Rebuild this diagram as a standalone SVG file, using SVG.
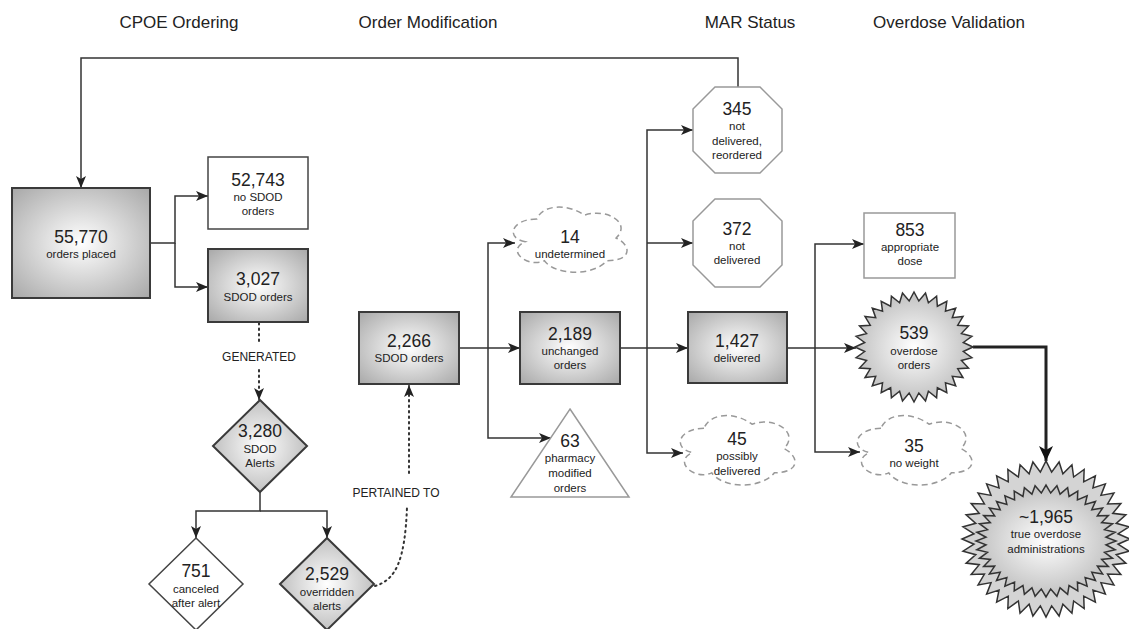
<svg xmlns="http://www.w3.org/2000/svg" xmlns:xlink="http://www.w3.org/1999/xlink" width="1129" height="629" viewBox="0 0 1129 629">
  <style>
    .hdr { font-family: "Liberation Sans", Arial, sans-serif; font-size: 17px; fill: #222; text-anchor: middle; }
    .num { font-family: "Liberation Sans", Arial, sans-serif; font-size: 17.5px; fill: #222; text-anchor: middle; }
    .lbl { font-family: "Liberation Sans", Arial, sans-serif; font-size: 11.5px; fill: #222; text-anchor: middle; }
    .edge-lbl { font-family: "Liberation Sans", Arial, sans-serif; font-size: 12px; fill: #222; text-anchor: middle; }
    .gbox { fill: url(#shade); stroke: #3a3a3a; stroke-width: 2; }
    .wbox { fill: #fff; stroke: #444; stroke-width: 1.5; }
    .lite { fill: #fff; stroke: #999; stroke-width: 1.5; }
    .cloud { fill: #fff; stroke: #999; stroke-width: 1.5; stroke-dasharray: 6 4; }
    .star { stroke: #333; stroke-width: 1.5; vector-effect: non-scaling-stroke; }
    .wire { fill: none; stroke: #333; stroke-width: 1.5; marker-end: url(#arrow); }
    .dots { fill: none; stroke: #333; stroke-width: 2; stroke-dasharray: 1.5 4; stroke-linecap: round; }
    .heavy { fill: none; stroke: #222; stroke-width: 3; marker-end: url(#arrowBig); }
  </style>
  <defs>
    <radialGradient id="shade" cx="0.5" cy="0.5" r="0.7">
      <stop offset="0" stop-color="#ffffff"/>
      <stop offset="1" stop-color="#a8a8a8"/>
    </radialGradient>
    <marker id="arrow" markerUnits="userSpaceOnUse" markerWidth="13" markerHeight="11" refX="12" refY="5" orient="auto">
      <path d="M0,0 L12,5 L0,10 L3,5 Z" fill="#222"/>
    </marker>
    <marker id="arrowBig" markerUnits="userSpaceOnUse" markerWidth="16" markerHeight="14" refX="15" refY="7" orient="auto">
      <path d="M0,0 L15,7 L0,14 L4,7 Z" fill="#111"/>
    </marker>
    <!-- 32-point burst, outer radius 100, inner radius 84 -->
    <polygon id="burst" class="star" points="100,0 83.6,8.2 98.1,19.5 80.4,24.4 92.4,38.3 74.1,39.6 83.1,55.6 64.9,53.3 70.7,70.7 53.3,64.9 55.6,83.1 39.6,74.1 38.3,92.4 24.4,80.4 19.5,98.1 8.2,83.6 0,100 -8.2,83.6 -19.5,98.1 -24.4,80.4 -38.3,92.4 -39.6,74.1 -55.6,83.1 -53.3,64.9 -70.7,70.7 -64.9,53.3 -83.1,55.6 -74.1,39.6 -92.4,38.3 -80.4,24.4 -98.1,19.5 -83.6,8.2 -100,0 -83.6,-8.2 -98.1,-19.5 -80.4,-24.4 -92.4,-38.3 -74.1,-39.6 -83.1,-55.6 -64.9,-53.3 -70.7,-70.7 -53.3,-64.9 -55.6,-83.1 -39.6,-74.1 -38.3,-92.4 -24.4,-80.4 -19.5,-98.1 -8.2,-83.6 0,-100 8.2,-83.6 19.5,-98.1 24.4,-80.4 38.3,-92.4 39.6,-74.1 55.6,-83.1 53.3,-64.9 70.7,-70.7 64.9,-53.3 83.1,-55.6 74.1,-39.6 92.4,-38.3 80.4,-24.4 98.1,-19.5 83.6,-8.2"/>
    <!-- 40-point burst, outer radius 100, inner radius 86 -->
    <polygon id="burst40" class="star" points="100,0 85.7,6.7 98.8,15.6 83.6,20.1 95.1,30.9 79.5,32.9 89.1,45.4 73.3,44.9 80.9,58.8 65.4,55.9 70.7,70.7 55.9,65.4 58.8,80.9 44.9,73.3 45.4,89.1 32.9,79.5 30.9,95.1 20.1,83.6 15.6,98.8 6.7,85.7 0,100 -6.7,85.7 -15.6,98.8 -20.1,83.6 -30.9,95.1 -32.9,79.5 -45.4,89.1 -44.9,73.3 -58.8,80.9 -55.9,65.4 -70.7,70.7 -65.4,55.9 -80.9,58.8 -73.3,44.9 -89.1,45.4 -79.5,32.9 -95.1,30.9 -83.6,20.1 -98.8,15.6 -85.7,6.7 -100,0 -85.7,-6.7 -98.8,-15.6 -83.6,-20.1 -95.1,-30.9 -79.5,-32.9 -89.1,-45.4 -73.3,-44.9 -80.9,-58.8 -65.4,-55.9 -70.7,-70.7 -55.9,-65.4 -58.8,-80.9 -44.9,-73.3 -45.4,-89.1 -32.9,-79.5 -30.9,-95.1 -20.1,-83.6 -15.6,-98.8 -6.7,-85.7 0,-100 6.7,-85.7 15.6,-98.8 20.1,-83.6 30.9,-95.1 32.9,-79.5 45.4,-89.1 44.9,-73.3 58.8,-80.9 55.9,-65.4 70.7,-70.7 65.4,-55.9 80.9,-58.8 73.3,-44.9 89.1,-45.4 79.5,-32.9 95.1,-30.9 83.6,-20.1 98.8,-15.6 85.7,-6.7"/>
  </defs>

  <!-- stage headings -->
  <g id="headings">
    <text class="hdr" x="179" y="28">CPOE Ordering</text>
    <text class="hdr" x="428" y="28">Order Modification</text>
    <text class="hdr" x="750" y="28">MAR Status</text>
    <text class="hdr" x="949" y="28">Overdose Validation</text>
  </g>

  <!-- connectors -->
  <g id="connectors">
    <path class="wire" d="M738,87 V58 H81 V188"/>
    <path class="wire" d="M150,243 H175 V196 H208"/>
    <path class="wire" d="M175,243 V287 H208"/>
    <path class="dots" d="M259,323 V341"/>
    <path class="dots" d="M259,370 V394"/>
    <path class="wire" d="M259,392 V400" stroke-width="0"/>
    <path class="wire" d="M260,492 V511 H196 V538"/>
    <path class="wire" d="M260,511 H327 V538"/>
    <path class="dots" d="M375,586 C396,580 405,560 407,507"/>
    <path class="dots" d="M409,473 V392"/>
    <path class="wire" d="M409,395 V385" stroke-width="0"/>
    <path class="wire" d="M459,348 H520"/>
    <path class="wire" d="M488,348 V243 H515"/>
    <path class="wire" d="M488,348 V438 H551"/>
    <path class="wire" d="M620,348 H688"/>
    <path class="wire" d="M647,348 V130 H693"/>
    <path class="wire" d="M647,243 H693"/>
    <path class="wire" d="M647,348 V453 H683"/>
    <path class="wire" d="M787,348 H856"/>
    <path class="wire" d="M815,348 V244 H864"/>
    <path class="wire" d="M815,348 V452 H860"/>
    <path class="heavy" d="M973,347 H1046 V461"/>
    <text class="edge-lbl" x="259" y="361" font-size="12.5">GENERATED</text>
    <text class="edge-lbl" x="396" y="497">PERTAINED TO</text>
  </g>

  <!-- CPOE ordering -->
  <g id="orders-placed">
    <rect class="gbox" x="12" y="188" width="138" height="110"/>
    <text class="num" x="81" y="243">55,770</text>
    <text class="lbl" x="81" y="258">orders placed</text>
  </g>
  <g id="no-sdod">
    <rect class="wbox" x="208" y="157" width="100" height="72"/>
    <text class="num" x="258" y="186">52,743</text>
    <text class="lbl" x="258" y="201">no SDOD</text>
    <text class="lbl" x="258" y="215">orders</text>
  </g>
  <g id="sdod-orders">
    <rect class="gbox" x="208" y="249" width="100" height="73"/>
    <text class="num" x="258" y="285">3,027</text>
    <text class="lbl" x="258" y="301">SDOD orders</text>
  </g>
  <g id="sdod-alerts">
    <polygon class="gbox" stroke-width="1.5" points="260,400 307,446 260,492 213,446"/>
    <text class="num" x="260" y="437">3,280</text>
    <text class="lbl" x="260" y="453">SDOD</text>
    <text class="lbl" x="260" y="467">Alerts</text>
  </g>
  <g id="canceled">
    <polygon class="wbox" stroke="#333" points="196,538 243,584 196,630 149,584"/>
    <text class="num" x="196" y="577">751</text>
    <text class="lbl" x="196" y="593">canceled</text>
    <text class="lbl" x="196" y="607">after alert</text>
  </g>
  <g id="overridden">
    <polygon class="gbox" stroke-width="1.5" points="327,538 374,584 327,630 280,584"/>
    <text class="num" x="327" y="580">2,529</text>
    <text class="lbl" x="327" y="596">overridden</text>
    <text class="lbl" x="327" y="610">alerts</text>
  </g>

  <!-- order modification -->
  <g id="sdod-orders-2">
    <rect class="gbox" x="359" y="312" width="100" height="72"/>
    <text class="num" x="409" y="347">2,266</text>
    <text class="lbl" x="409" y="362">SDOD orders</text>
  </g>
  <g id="undetermined">
    <path class="cloud" d="M536.8,219 C511.4,219 505,238 525.3,241.8 C505,250.2 527.9,268.4 544.4,260.8 C555.8,276 593.9,276 606.6,260.8 C632,260.8 632,245.6 616.1,238 C632,222.8 606.6,207.6 584.4,215.2 C568.5,203.8 543.1,203.8 536.8,219 Z"/>
    <text class="num" x="570" y="243">14</text>
    <text class="lbl" x="570" y="258">undetermined</text>
  </g>
  <g id="unchanged">
    <rect class="gbox" x="520" y="312" width="100" height="72"/>
    <text class="num" x="570" y="340">2,189</text>
    <text class="lbl" x="570" y="355">unchanged</text>
    <text class="lbl" x="570" y="369">orders</text>
  </g>
  <g id="pharmacy-modified">
    <polygon class="lite" points="570,409 629,497 511,497"/>
    <text class="num" x="570" y="447">63</text>
    <text class="lbl" x="570" y="462">pharmacy</text>
    <text class="lbl" x="570" y="477">modified</text>
    <text class="lbl" x="570" y="492">orders</text>
  </g>

  <!-- MAR status -->
  <g id="reordered">
    <polygon class="lite" points="715,87 760,87 782,109 782,151 760,173 715,173 693,151 693,109"/>
    <text class="num" x="737" y="115">345</text>
    <text class="lbl" x="737" y="130">not</text>
    <text class="lbl" x="737" y="145">delivered,</text>
    <text class="lbl" x="737" y="159">reordered</text>
  </g>
  <g id="not-delivered">
    <polygon class="lite" points="715,199 760,199 782,221 782,265 760,287 715,287 693,265 693,221"/>
    <text class="num" x="737" y="235">372</text>
    <text class="lbl" x="737" y="250">not</text>
    <text class="lbl" x="737" y="264">delivered</text>
  </g>
  <g id="delivered">
    <rect class="gbox" x="688" y="312" width="99" height="71"/>
    <text class="num" x="737" y="347">1,427</text>
    <text class="lbl" x="737" y="362">delivered</text>
  </g>
  <g id="possibly-delivered">
    <path class="cloud" d="M704,428.3 C678.4,428.3 672,448.5 692.5,452.6 C672,461.5 695,480.9 711.7,472.8 C723.2,489 761.6,489 774.4,472.8 C800,472.8 800,456.6 784,448.5 C800,432.3 774.4,416.1 752,424.2 C736,412.1 710.4,412.1 704,428.3 Z"/>
    <text class="num" x="737" y="445">45</text>
    <text class="lbl" x="737" y="460">possibly</text>
    <text class="lbl" x="737" y="475">delivered</text>
  </g>

  <!-- overdose validation -->
  <g id="appropriate">
    <rect class="lite" x="864" y="213" width="91" height="65"/>
    <text class="num" x="910" y="236">853</text>
    <text class="lbl" x="910" y="251">appropriate</text>
    <text class="lbl" x="910" y="265">dose</text>
  </g>
  <g id="overdose-orders">
    <use href="#burst" xlink:href="#burst" fill="url(#shade)" transform="translate(914,347) scale(0.59,0.55)"/>
    <text class="num" x="914" y="339">539</text>
    <text class="lbl" x="914" y="355">overdose</text>
    <text class="lbl" x="914" y="369">orders</text>
  </g>
  <g id="no-weight">
    <path class="cloud" d="M881,428.3 C855.4,428.3 849,448.5 869.5,452.6 C849,461.5 872,480.9 888.7,472.8 C900.2,489 938.6,489 951.4,472.8 C977,472.8 977,456.6 961,448.5 C977,432.3 951.4,416.1 929,424.2 C913,412.1 887.4,412.1 881,428.3 Z"/>
    <text class="num" x="914" y="452">35</text>
    <text class="lbl" x="914" y="467">no weight</text>
  </g>
  <g id="true-overdose">
    <use href="#burst40" xlink:href="#burst40" fill="#d4d4d4" transform="translate(1046,539) scale(0.84,0.78)"/>
    <use href="#burst40" xlink:href="#burst40" fill="url(#shade)" transform="translate(1046,541) scale(0.70,0.56)"/>
    <text class="num" x="1046" y="523">~1,965</text>
    <text class="lbl" x="1046" y="538">true overdose</text>
    <text class="lbl" x="1046" y="553">administrations</text>
  </g>
</svg>
